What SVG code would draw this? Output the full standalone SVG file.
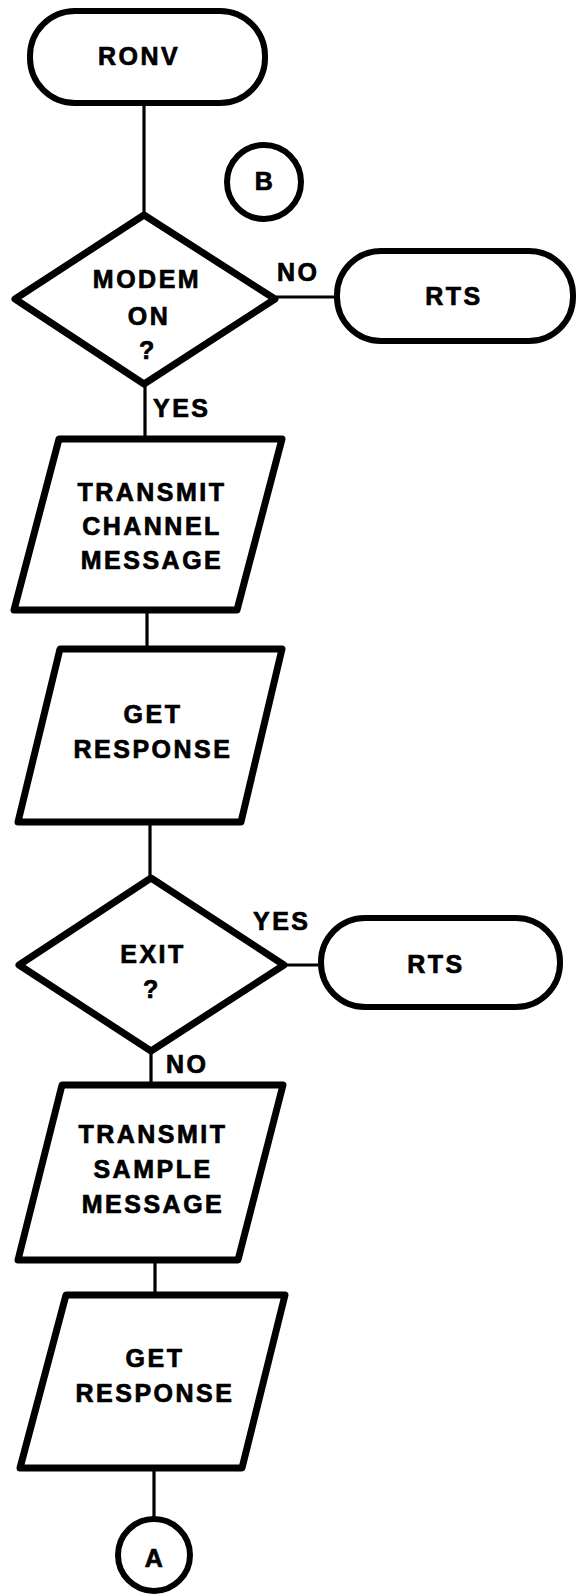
<svg xmlns="http://www.w3.org/2000/svg" width="579" height="1594" viewBox="0 0 579 1594">
<style>
.shape{fill:#fff;stroke:#000;stroke-width:7;stroke-linejoin:round}
.term{fill:#fff;stroke:#000;stroke-width:6}
.conn line{stroke:#000;stroke-width:3.2}
text{font-family:"Liberation Sans",Arial,Helvetica,sans-serif;font-weight:bold;font-size:25px;letter-spacing:2.5px;fill:#000;stroke:#000;stroke-width:0.7}
.c{text-anchor:middle}
</style>
<rect width="579" height="1594" fill="#fff"/>
<g id="connectors" class="conn">
<line x1="144" y1="103" x2="144" y2="214"/>
<line x1="276" y1="297" x2="337" y2="297"/>
<line x1="145" y1="385" x2="145" y2="439"/>
<line x1="147" y1="610" x2="147" y2="649"/>
<line x1="150" y1="822" x2="150" y2="878"/>
<line x1="284" y1="965" x2="321" y2="965"/>
<line x1="151" y1="1051" x2="151" y2="1085"/>
<line x1="155" y1="1260" x2="155" y2="1295"/>
<line x1="154" y1="1468" x2="154" y2="1519"/>
</g>
<g id="ronv">
<rect class="term" x="30" y="11" width="235" height="92" rx="45"/>
<text class="c" x="139" y="65">RONV</text>
</g>
<g id="connB">
<circle class="term" cx="264" cy="182" r="37"/>
<text class="c" x="265" y="190" font-size="24">B</text>
</g>
<g id="modem">
<polygon class="shape" points="144,215 275,299 144,384 15,299"/>
<text class="c" x="147" y="288">MODEM</text>
<text class="c" x="149" y="325">ON</text>
<text class="c" x="148" y="359">?</text>
<text x="277" y="281">NO</text>
<text x="153" y="417">YES</text>
</g>
<g id="rts1">
<rect class="term" x="337" y="251" width="236" height="90" rx="44"/>
<text class="c" x="454" y="305">RTS</text>
</g>
<g id="txchan">
<polygon class="shape" points="59,439 282,439 237,610 14,610"/>
<text class="c" x="152" y="501">TRANSMIT</text>
<text class="c" x="152" y="535">CHANNEL</text>
<text class="c" x="152" y="569">MESSAGE</text>
</g>
<g id="getresp1">
<polygon class="shape" points="60,649 282,649 241,822 18,822"/>
<text class="c" x="153" y="723">GET</text>
<text class="c" x="153" y="758">RESPONSE</text>
</g>
<g id="exit">
<polygon class="shape" points="151,878 284,965 151,1051 19,965"/>
<text class="c" x="153" y="963">EXIT</text>
<text class="c" x="152" y="998">?</text>
<text x="253" y="930">YES</text>
<text x="166" y="1073">NO</text>
</g>
<g id="rts2">
<rect class="term" x="321" y="918" width="239" height="89" rx="44"/>
<text class="c" x="436" y="973">RTS</text>
</g>
<g id="txsample">
<polygon class="shape" points="62,1085 283,1085 238,1260 18,1260"/>
<text class="c" x="153" y="1143">TRANSMIT</text>
<text class="c" x="153" y="1178">SAMPLE</text>
<text class="c" x="153" y="1213">MESSAGE</text>
</g>
<g id="getresp2">
<polygon class="shape" points="66,1295 285,1295 242,1468 20,1468"/>
<text class="c" x="155" y="1367">GET</text>
<text class="c" x="155" y="1402">RESPONSE</text>
</g>
<g id="connA">
<circle class="term" cx="154" cy="1555" r="36"/>
<text class="c" x="155" y="1567" font-size="24">A</text>
</g>
</svg>
